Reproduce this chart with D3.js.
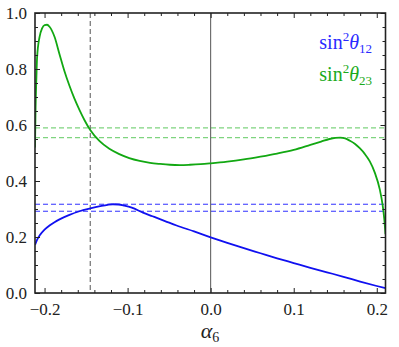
<!DOCTYPE html>
<html>
<head>
<meta charset="utf-8">
<script src="https://cdn.jsdelivr.net/npm/d3@7"></script>
<style>
  html, body { margin: 0; padding: 0; background: #fff; }
  svg { display: block; }
  svg text { font-family: "Liberation Serif", "Times New Roman", "DejaVu Serif", serif; }
</style>
</head>
<body>
<div id="chart"></div>
<script>
// values
const alphaTheta23 = [-0.2115, -0.2108, -0.2098, -0.209, -0.206, -0.203, -0.200, -0.197, -0.194, -0.188, -0.182, -0.176, -0.170, -0.164, -0.158, -0.152, -0.145, -0.134, -0.122, -0.110, -0.098, -0.0855, -0.073, -0.061, -0.049, -0.037, -0.025, -0.012, 0, 0.02, 0.04, 0.06, 0.08, 0.1, 0.12, 0.133, 0.143, 0.150, 0.156, 0.162, 0.1675, 0.1735, 0.1795, 0.1855, 0.1916, 0.1976, 0.2036, 0.207, 0.209, 0.2105];
const sin2Theta23 = [0.52, 0.66, 0.77, 0.84, 0.915, 0.945, 0.957, 0.958, 0.951, 0.915, 0.853, 0.792, 0.74, 0.694, 0.654, 0.618, 0.582, 0.543, 0.515, 0.496, 0.482, 0.472, 0.465, 0.461, 0.458, 0.457, 0.458, 0.46, 0.463, 0.469, 0.477, 0.487, 0.498, 0.511, 0.529, 0.541, 0.55, 0.554, 0.555, 0.552, 0.544, 0.533, 0.517, 0.497, 0.47, 0.43, 0.37, 0.315, 0.265, 0.21];

const alphaTheta12 = [-0.2115, -0.209, -0.206, -0.2, -0.194, -0.188, -0.182, -0.17, -0.158, -0.145, -0.133, -0.124, -0.1177, -0.111, -0.104, -0.095, -0.0815, -0.07, -0.055, -0.041, -0.02, 0, 0.02, 0.04, 0.06, 0.08, 0.1, 0.12, 0.14, 0.16, 0.18, 0.2, 0.2105];
const sin2Theta12 = [0.172, 0.19, 0.205, 0.226, 0.241, 0.253, 0.263, 0.279, 0.292, 0.302, 0.31, 0.315, 0.317, 0.316, 0.312, 0.305, 0.287, 0.274, 0.257, 0.241, 0.22, 0.199, 0.179, 0.16, 0.142, 0.124, 0.107, 0.09, 0.074, 0.058, 0.041, 0.025, 0.017];

const band23 = [0.555, 0.590];
const band12 = [0.292, 0.317];
const markAlpha = -0.145;

const xMajor = [-0.2, -0.1, 0, 0.1, 0.2];
const yMajor = [0, 0.2, 0.4, 0.6, 0.8, 1.0];

const width = 399, height = 347;
const m = { left: 35, right: 385.5, top: 13, bottom: 293 };
const blue = '#1010f0';
const green = '#12a812';

const svg = d3.select('#chart').append('svg')
  .attr('width', width)
  .attr('height', height);

const x = d3.scaleLinear().domain([-0.2115, 0.2105]).range([m.left, m.right]);
const y = d3.scaleLinear().domain([0, 1]).range([m.bottom, m.top]);

const xMinor = d3.range(-0.2, 0.2001, 0.02).filter(v => xMajor.every(t => Math.abs(t - v) > 1e-6));
const yMinor = d3.range(0, 1.0001, 0.05).filter(v => yMajor.every(t => Math.abs(t - v) > 1e-6));

svg.append('defs').append('clipPath').attr('id', 'plot')
  .append('rect')
  .attr('x', m.left).attr('y', m.top)
  .attr('width', m.right - m.left).attr('height', m.bottom - m.top);

const plot = svg.append('g').attr('clip-path', 'url(#plot)');

// horizontal bands
band23.forEach(v => {
  plot.append('line')
    .attr('x1', m.left).attr('x2', m.right)
    .attr('y1', y(v)).attr('y2', y(v))
    .attr('stroke', '#7fd47f')
    .attr('stroke-width', 1.2)
    .attr('stroke-dasharray', '5,3');
});
band12.forEach(v => {
  plot.append('line')
    .attr('x1', m.left).attr('x2', m.right)
    .attr('y1', y(v)).attr('y2', y(v))
    .attr('stroke', '#3030ff')
    .attr('stroke-width', 1)
    .attr('stroke-dasharray', '5,3');
});

// vertical lines
plot.append('line')
  .attr('x1', x(markAlpha)).attr('x2', x(markAlpha))
  .attr('y1', m.top).attr('y2', m.bottom)
  .attr('stroke', '#555')
  .attr('stroke-width', 1)
  .attr('stroke-dasharray', '5,3');

plot.append('line')
  .attr('x1', x(0)).attr('x2', x(0))
  .attr('y1', m.top).attr('y2', m.bottom)
  .attr('stroke', '#555')
  .attr('stroke-width', 1);

const line = d3.line()
  .x(d => x(d[0]))
  .y(d => y(d[1]))
  .curve(d3.curveMonotoneX);

plot.append('path')
  .attr('d', line(d3.zip(alphaTheta12, sin2Theta12)))
  .attr('fill', 'none')
  .attr('stroke', blue)
  .attr('stroke-width', 1.8);

plot.append('path')
  .attr('d', line(d3.zip(alphaTheta23, sin2Theta23)))
  .attr('fill', 'none')
  .attr('stroke', green)
  .attr('stroke-width', 1.8);

// frame ticks
function frameAxis(axis, transform, labels) {
  const g = svg.append('g').attr('transform', transform).call(axis);
  g.attr('font-family', null);
  g.select('.domain').remove();
  g.selectAll('.tick line').attr('stroke', '#222').attr('stroke-width', 1);
  if (!labels) g.selectAll('.tick text').remove();
  return g;
}

const fmt = d3.format('.1f');

const bx = frameAxis(d3.axisBottom(x).tickValues(xMajor).tickSize(-5).tickPadding(12).tickFormat(fmt), `translate(0,${m.bottom})`, true);
frameAxis(d3.axisBottom(x).tickValues(xMinor).tickSize(-3).tickFormat(''), `translate(0,${m.bottom})`, false);
frameAxis(d3.axisTop(x).tickValues(xMajor).tickSize(-5), `translate(0,${m.top})`, false);
frameAxis(d3.axisTop(x).tickValues(xMinor).tickSize(-3), `translate(0,${m.top})`, false);

const ly = frameAxis(d3.axisLeft(y).tickValues(yMajor).tickSize(-5).tickPadding(8).tickFormat(fmt), `translate(${m.left},0)`, true);
frameAxis(d3.axisLeft(y).tickValues(yMinor).tickSize(-3).tickFormat(''), `translate(${m.left},0)`, false);
frameAxis(d3.axisRight(y).tickValues(yMajor).tickSize(-5), `translate(${m.right},0)`, false);
frameAxis(d3.axisRight(y).tickValues(yMinor).tickSize(-3), `translate(${m.right},0)`, false);

[bx, ly].forEach(g => {
  g.attr('font-size', 17);
  g.selectAll('.tick text').attr('fill', '#222');
});
bx.selectAll('.tick text').attr('dy', '0.6em');

// frame
svg.append('rect')
  .attr('x', m.left).attr('y', m.top)
  .attr('width', m.right - m.left).attr('height', m.bottom - m.top)
  .attr('fill', 'none')
  .attr('stroke', '#222')
  .attr('stroke-width', 1.6);

// axis title
const xt = svg.append('text')
  .attr('x', 210).attr('y', 338)
  .attr('text-anchor', 'middle')
  .attr('font-size', 22)
  .attr('fill', '#222');
xt.append('tspan').attr('font-style', 'italic').text('α');
xt.append('tspan').attr('font-size', 14).attr('dy', 4).text('6');

// legend
function legendEntry(yPos, sub, color) {
  const t = svg.append('text')
    .attr('x', 372).attr('y', yPos)
    .attr('text-anchor', 'end')
    .attr('font-size', 20)
    .attr('fill', color);
  t.append('tspan').text('sin');
  t.append('tspan').attr('font-size', 13).attr('dy', -8).text('2');
  t.append('tspan').attr('font-style', 'italic').attr('dy', 8).text('θ');
  t.append('tspan').attr('font-size', 13).attr('dy', 4).text(sub);
}
legendEntry(49, '12', '#2a2aff');
legendEntry(81, '23', '#1aaa1a');
</script>
</body>
</html>
